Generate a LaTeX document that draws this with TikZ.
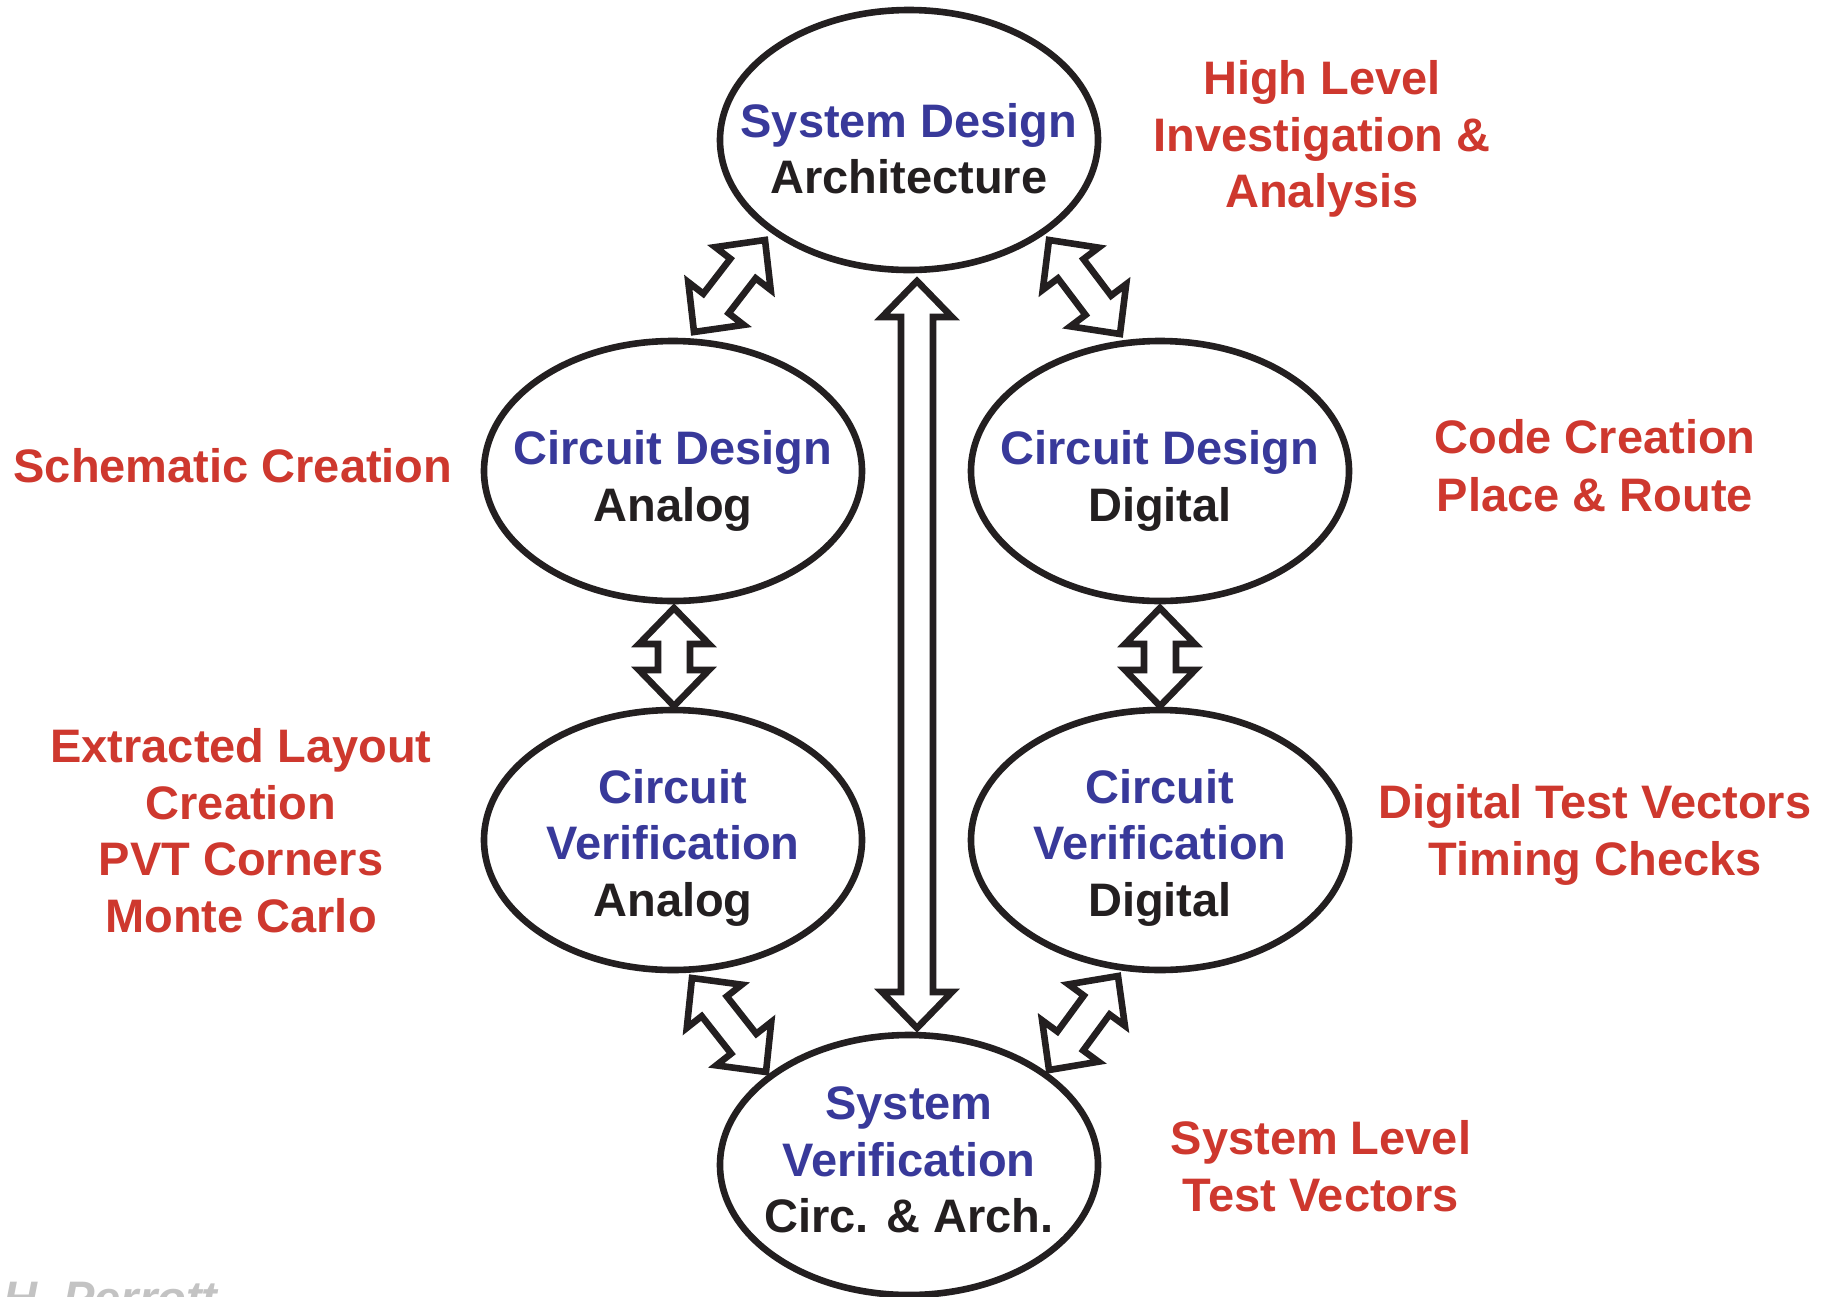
\documentclass[tikz,border=0pt]{standalone}
\usepackage{fontspec}
\setmainfont{Liberation Sans}
\usetikzlibrary{calc,shapes.geometric}
\definecolor{nodeblue}{HTML}{38399A}
\definecolor{notered}{HTML}{CE382E}
\definecolor{inkblack}{HTML}{231F20}
\definecolor{signgray}{HTML}{C3C3C3}
\newcommand{\dbL}{18pt}
\newcommand{\dbW}{17.5pt}
\newcommand{\dbw}{8pt}
\newcommand{\dblarrow}[2]{%
  \draw[arrowbox] (#1)
    -- ($(#1)!\dbL!(#2)!\dbW!90:(#2)$)
    -- ($(#1)!\dbL!(#2)!\dbw!90:(#2)$)
    -- ($(#2)!\dbL!(#1)!\dbw!-90:(#1)$)
    -- ($(#2)!\dbL!(#1)!\dbW!-90:(#1)$)
    -- (#2)
    -- ($(#2)!\dbL!(#1)!\dbW!90:(#1)$)
    -- ($(#2)!\dbL!(#1)!\dbw!90:(#1)$)
    -- ($(#1)!\dbL!(#2)!\dbw!-90:(#2)$)
    -- ($(#1)!\dbL!(#2)!\dbW!-90:(#2)$)
    -- cycle;}
\begin{document}
\begin{tikzpicture}[x=0.5pt,y=-0.5pt,
  ell/.style={ellipse, draw=inkblack, line width=3.3pt, fill=white,
    minimum width=189pt, minimum height=130pt, inner sep=0pt},
  arrowbox/.style={draw=inkblack, line width=3.3pt, fill=white, line join=miter, miter limit=10},
  txt/.style={font=\fontsize{23.5pt}{28pt}\selectfont\bfseries, inner sep=0pt, anchor=base},
  bluetxt/.style={txt, text=nodeblue},
  blacktxt/.style={txt, text=inkblack},
  redtxt/.style={txt, text=notered}]
\useasboundingbox (0,0) rectangle (1828,1297);
\clip (0,0) rectangle (1828,1297);
\fill[white] (0,0) rectangle (1828,1297);

% ellipses
\node[ell] (top) at (909,140) {};
\node[ell] (cda) at (673,471) {};
\node[ell] (cdd) at (1160,471) {};
\node[ell] (cva) at (673,840) {};
\node[ell] (cvd) at (1160,840) {};
\node[ell] (sv)  at (909,1165) {};

% texts in ellipses
\node[bluetxt]  (t1) at (909,137) {System Design};
\node[blacktxt] (t2) at (909,193) {Architecture};
\node[bluetxt]  (a1) at (673,464) {Circuit Design};
\node[blacktxt] (a2) at (673,521) {Analog};
\node[bluetxt]  (d1) at (1160,464) {Circuit Design};
\node[blacktxt] (d2) at (1160,521) {Digital};
\node[bluetxt]  (va1) at (673,803) {Circuit};
\node[bluetxt]  (va2) at (673,859) {Verification};
\node[blacktxt] (va3) at (673,916) {Analog};
\node[bluetxt]  (vd1) at (1160,803) {Circuit};
\node[bluetxt]  (vd2) at (1160,859) {Verification};
\node[blacktxt] (vd3) at (1160,916) {Digital};
\node[bluetxt]  (s1) at (909,1119) {System};
\node[bluetxt]  (s2) at (909,1176) {Verification};
\node[blacktxt] (s3) at (909,1232) {Circ. \& Arch.};

% side notes
\node[redtxt] (h1) at (1322,94) {High Level};
\node[redtxt] (h2) at (1322,151) {Investigation \&};
\node[redtxt] (h3) at (1322,207) {Analysis};
\node[redtxt] (sc) at (233,482) {Schematic Creation};
\node[redtxt] (c1) at (1595,453) {Code Creation};
\node[redtxt] (c2) at (1595,511) {Place \& Route};
\node[redtxt] (e1) at (241,762) {Extracted Layout};
\node[redtxt] (e2) at (241,819) {Creation};
\node[redtxt] (e3) at (241,875) {PVT Corners};
\node[redtxt] (e4) at (241,932) {Monte Carlo};
\node[redtxt] (g1) at (1595,818) {Digital Test Vectors};
\node[redtxt] (g2) at (1595,875) {Timing Checks};
\node[redtxt] (l1) at (1321,1154) {System Level};
\node[redtxt] (l2) at (1321,1211) {Test Vectors};

\node[font=\fontsize{23.5pt}{28pt}\selectfont\bfseries\itshape, text=signgray,
  inner sep=0pt, anchor=base west] (author) at (3,1314) {H. Perrott};

% arrow end points
\coordinate (tlA) at (694,332);  \coordinate (tlB) at (765,240);
\coordinate (trA) at (1120,334); \coordinate (trB) at (1049,240);
\coordinate (cA) at (917,281);   \coordinate (cB) at (917,1028);
\coordinate (lvA) at (674,608);  \coordinate (lvB) at (674,706);
\coordinate (rvA) at (1160,608); \coordinate (rvB) at (1160,706);
\coordinate (blA) at (692,978);  \coordinate (blB) at (766,1072);
\coordinate (brA) at (1118,976); \coordinate (brB) at (1049,1070);

\dblarrow{tlA}{tlB}
\dblarrow{trA}{trB}
\dblarrow{cA}{cB}
\dblarrow{lvA}{lvB}
\dblarrow{rvA}{rvB}
\dblarrow{blA}{blB}
\dblarrow{brA}{brB}
\end{tikzpicture}
\end{document}
